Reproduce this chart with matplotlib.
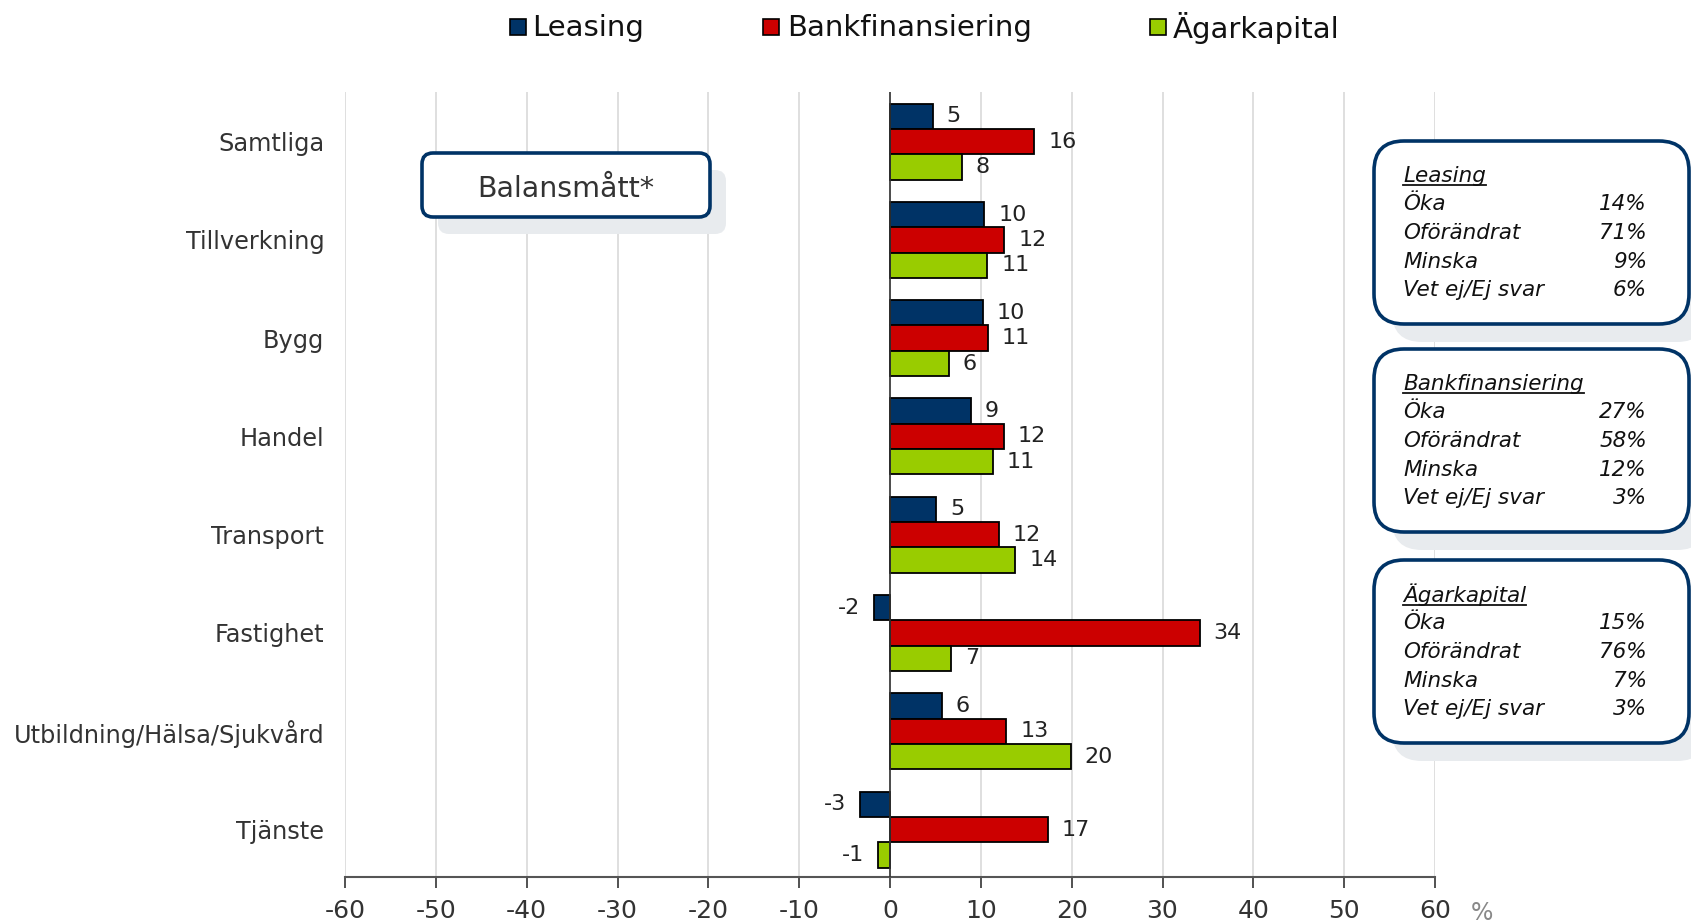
import matplotlib
matplotlib.use("Agg")
import matplotlib.pyplot as plt
from matplotlib.patches import FancyBboxPatch, Rectangle
from matplotlib.lines import Line2D
from matplotlib.transforms import IdentityTransform

# data
categories = ["Samtliga", "Tillverkning", "Bygg", "Handel", "Transport",
              "Fastighet", "Utbildning/Hälsa/Sjukvård", "Tjänste"]
leasing = [4.7, 10.4, 10.2, 8.9, 5.1, -1.8, 5.7, -3.3]
bank = [15.9, 12.6, 10.8, 12.5, 12.0, 34.1, 12.8, 17.4]
agar = [7.9, 10.7, 6.5, 11.3, 13.8, 6.7, 19.9, -1.3]
leasing_lbl = ["5", "10", "10", "9", "5", "-2", "6", "-3"]
bank_lbl = ["16", "12", "11", "12", "12", "34", "13", "17"]
agar_lbl = ["8", "11", "6", "11", "14", "7", "20", "-1"]
series_names = ["Leasing", "Bankfinansiering", "Ägarkapital"]
colors = ["#003366", "#cc0000", "#99cc00"]
xticks = list(range(-60, 61, 10))

box_rows = ["Öka", "Oförändrat", "Minska", "Vet ej/Ej svar"]
box_values = [["14%", "71%", "9%", "6%"],
              ["27%", "58%", "12%", "3%"],
              ["15%", "76%", "7%", "3%"]]

W, H = 1691, 923
NAVY = "#003366"

fig = plt.figure(figsize=(W / 100, H / 100), dpi=100)
ax = fig.add_axes([345 / W, 1 - 877 / H, (1435 - 345) / W, (877 - 92) / H])

bh = 0.258
offsets = [-bh, 0, bh]
all_vals = [leasing, bank, agar]
all_lbls = [leasing_lbl, bank_lbl, agar_lbl]
for k in range(3):
    ys = [i + offsets[k] for i in range(len(categories))]
    ax.barh(ys, all_vals[k], height=bh, color=colors[k], edgecolor="black",
            linewidth=1.3, zorder=3, label=series_names[k])
    for y, v, t in zip(ys, all_vals[k], all_lbls[k]):
        if v >= 0:
            ax.annotate(t, (v, y), xytext=(10, 0), textcoords="offset points",
                        ha="left", va="center", fontsize=16, color="#222222")
        else:
            ax.annotate(t, (v, y), xytext=(-10, 0), textcoords="offset points",
                        ha="right", va="center", fontsize=16, color="#222222")

ax.set_xlim(-60, 60)
ax.set_ylim(7.483, -0.505)
ax.set_xticks(xticks)
ax.set_xticklabels([str(t) for t in xticks], fontsize=18, color="#333333")
ax.set_yticks(range(len(categories)))
ax.set_yticklabels(categories, fontsize=17.3, color="#333333")
ax.tick_params(axis="y", length=0, pad=15)
ax.tick_params(axis="x", direction="out", length=8, width=1.2, color="#333333", pad=8)
ax.grid(axis="x", color="#d9d9d9", linewidth=1.2, zorder=0)
ax.axvline(0, color="#333333", linewidth=1.2, zorder=4)
for s in ["top", "right", "left"]:
    ax.spines[s].set_visible(False)
ax.spines["bottom"].set_color("#555555")
ax.spines["bottom"].set_linewidth(1.5)

fig.text(1482 / W, 1 - 913 / H, "%", fontsize=17, color="#888888",
         ha="center", va="center")

# legend drawn by hand
ident = IdentityTransform()
leg_sq = [510, 763, 1150]
leg_tx = [532, 787, 1173]
for k in range(3):
    fig.add_artist(Rectangle((leg_sq[k], H - 35), 16, 16, facecolor=colors[k],
                             edgecolor="black", linewidth=1.2, transform=ident))
    fig.text(leg_tx[k] / W, 1 - 28 / H, series_names[k], fontsize=21,
             ha="left", va="center", color="#111111")


def rbox(x0, y0, x1, y1, r, lw, shadow):
    # pixel coords measured from top-left
    sx, sy = shadow
    fig.add_artist(FancyBboxPatch((x0 + sx, H - y1 - sy), x1 - x0, y1 - y0,
                                  boxstyle="round,pad=0,rounding_size=%d" % r,
                                  facecolor="#e8ebee", edgecolor="none",
                                  transform=ident, zorder=1))
    fig.add_artist(FancyBboxPatch((x0, H - y1), x1 - x0, y1 - y0,
                                  boxstyle="round,pad=0,rounding_size=%d" % r,
                                  facecolor="white", edgecolor=NAVY,
                                  linewidth=lw, transform=ident, zorder=2))


rbox(422, 153, 710, 217, 11, 2.6, (16, 17))
fig.text(566 / W, 1 - 189 / H, "Balansmått*", fontsize=20.5, color="#333333",
         ha="center", va="center", zorder=3)

box_tops = [141, 349, 560]
titles = []
for b in range(3):
    top = box_tops[b]
    rbox(1374, top, 1689, top + 183, 30, 2.6, (18, 18))
    t = fig.text(1403 / W, 1 - (top + 35) / H, series_names[b], fontsize=15.5,
                 style="italic", ha="left", va="center", color="#111111", zorder=3)
    titles.append(t)
    for r in range(4):
        yy = top + 63 + r * 28.8
        fig.text(1403 / W, 1 - yy / H, box_rows[r], fontsize=15.5, style="italic",
                 ha="left", va="center", color="#111111", zorder=3)
        fig.text(1647 / W, 1 - yy / H, box_values[b][r], fontsize=15.5,
                 style="italic", ha="right", va="center", color="#111111", zorder=3)

# underline box titles
fig.canvas.draw()
rend = fig.canvas.get_renderer()
for t in titles:
    bb = t.get_window_extent(rend)
    fig.add_artist(Line2D([bb.x0, bb.x1], [bb.y0 + 1, bb.y0 + 1], color="#111111",
                          linewidth=1.3, transform=ident, zorder=3))

fig.savefig("out.png", dpi=100)
